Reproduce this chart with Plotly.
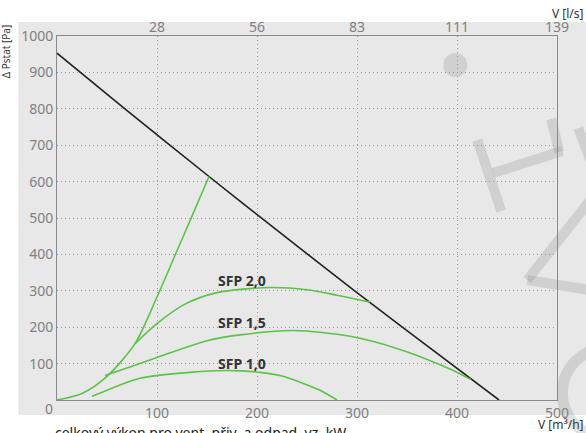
import plotly.graph_objects as go

# ---- data ----
fan_x = [0, 67, 152, 203, 297, 343, 442]
fan_y = [953, 802, 614, 503, 301, 205, 0]

limit_x = [0, 25, 50, 78, 100, 120, 135, 152]
limit_y = [0, 18, 65, 155, 283, 410, 505, 614]

sfp20_x = [78, 100, 127, 160, 213, 250, 280, 313]
sfp20_y = [155, 210, 262, 295, 309, 303, 288, 269]

sfp15_x = [48, 75, 100, 150, 183, 237, 293, 343, 393, 414]
sfp15_y = [67, 93, 117, 163, 179, 191, 175, 139, 85, 56]

sfp10_x = [35, 60, 83, 133, 170, 203, 225, 243, 262, 280]
sfp10_y = [10, 38, 60, 76, 81, 76, 66, 49, 28, 0]

x_ticks = [100, 200, 300, 400, 500]
x_top_labels = ["28", "56", "83", "111", "139"]
y_ticks = [100, 200, 300, 400, 500, 600, 700, 800, 900, 1000]

sfp_labels = ["SFP 2,0", "SFP 1,5", "SFP 1,0"]
sfp_label_x = [185, 185, 185]
sfp_label_y = [329, 214, 99]

GREEN = "#5cc24a"
FONT = "Noto Sans"
GRID = "#9a9a9a"
BG = "#e8e8e8"

fig = go.Figure()
fig.add_trace(go.Scatter(x=fan_x, y=fan_y, mode="lines",
                         line=dict(color="#222222", width=1.6, shape="spline", smoothing=0.6)))
for xs, ys in [(limit_x, limit_y), (sfp20_x, sfp20_y), (sfp15_x, sfp15_y), (sfp10_x, sfp10_y)]:
    fig.add_trace(go.Scatter(x=xs, y=ys, mode="lines",
                             line=dict(color=GREEN, width=1.6, shape="spline", smoothing=0.8)))

W, H = 586, 433
L, T = 56.7, 36
R = W - 556.7
B = H - 400
pw, ph = W - L - R, H - T - B


def px(x):
    return (x - L) / pw


def py(y):
    return (H - B - y) / ph


shapes = []
# grey panel behind the chart
shapes.append(dict(type="rect", xref="paper", yref="paper", x0=px(18), x1=px(600), y0=py(415), y1=py(22),
                   fillcolor=BG, line=dict(width=0), layer="below"))
# watermark
wm = "rgba(140,140,140,0.26)"
shapes.append(dict(type="circle", xref="paper", yref="paper", x0=px(443), x1=px(467), y0=py(77), y1=py(53),
                   fillcolor=wm, line=dict(width=0), layer="above"))
for (a, b, c, d) in [(477, 140, 501, 211), (493, 173, 562, 151), (551, 119, 559, 152),
                     (578, 128, 590, 160), (590, 200, 527, 280), (527, 280, 590, 290)]:
    shapes.append(dict(type="line", xref="paper", yref="paper", x0=px(a), y0=py(b), x1=px(c), y1=py(d),
                       line=dict(color=wm, width=10), layer="above"))
shapes.append(dict(type="circle", xref="paper", yref="paper", x0=px(607 - 45), x1=px(607 + 45),
                   y0=py(393 + 45), y1=py(393 - 45), line=dict(color=wm, width=11), layer="above"))

annotations = []
for t, ax, ay in zip(sfp_labels, sfp_label_x, sfp_label_y):
    annotations.append(dict(text="<b>" + t + "</b>", x=ax, y=ay, xref="x", yref="y", showarrow=False,
                            xanchor="center", yanchor="middle",
                            font=dict(family=FONT, size=14, color="#333333")))
annotations += [
    dict(text="0", x=px(49), y=py(409), xref="paper", yref="paper", showarrow=False,
         xanchor="center", yanchor="middle", font=dict(family=FONT, size=14, color="#808080")),
    dict(text="V [l/s]", x=px(586), y=py(14), xref="paper", yref="paper", showarrow=False,
         xanchor="right", yanchor="middle", font=dict(family=FONT, size=12, color="#333333")),
    dict(text="V [m³/h]", x=px(586), y=py(424.5), xref="paper", yref="paper", showarrow=False,
         xanchor="right", yanchor="middle", font=dict(family=FONT, size=12, color="#333333")),
    dict(text="celkový výkon pro vent. přiv. a odpad. vz. kW", x=px(53), y=py(433), xref="paper", yref="paper",
         showarrow=False, xanchor="left", yanchor="middle", font=dict(family=FONT, size=14, color="#222222")),
    dict(text="Δ Pstat [Pa]", x=px(6), y=py(22), xref="paper", yref="paper", showarrow=False, textangle=-90,
         xanchor="center", yanchor="top", font=dict(family=FONT, size=10, color="#333333")),
]

fig.update_layout(
    width=W, height=H,
    margin=dict(l=L, r=R, t=T, b=B, pad=0),
    paper_bgcolor="white", plot_bgcolor=BG,
    showlegend=False,
    font=dict(family=FONT, size=14, color="#808080"),
    shapes=shapes, annotations=annotations,
    xaxis=dict(range=[0, 500], tickvals=x_ticks, showgrid=True, gridcolor=GRID, griddash="1px,3px", gridwidth=1,
               showline=True, linecolor="#8a8a8a", linewidth=1, mirror=True, ticks="", zeroline=False,
               tickfont=dict(family=FONT, size=14, color="#808080")),
    xaxis2=dict(range=[0, 500], overlaying="x", side="top", tickvals=x_ticks, ticktext=x_top_labels,
                showgrid=False, showline=False, ticks="", zeroline=False,
                tickfont=dict(family=FONT, size=14, color="#808080")),
    yaxis=dict(range=[0, 1000], tickvals=y_ticks, showgrid=True, gridcolor=GRID, griddash="1px,3px", gridwidth=1,
               showline=True, linecolor="#8a8a8a", linewidth=1, mirror=True, ticks="", zeroline=False,
               tickfont=dict(family=FONT, size=14, color="#808080")),
)
fig.add_trace(go.Scatter(x=[None], y=[None], xaxis="x2", showlegend=False))

fig.write_html("out.html", config={"displayModeBar": False},
               post_script="document.body.style.margin='0';document.body.style.overflow='hidden';")
